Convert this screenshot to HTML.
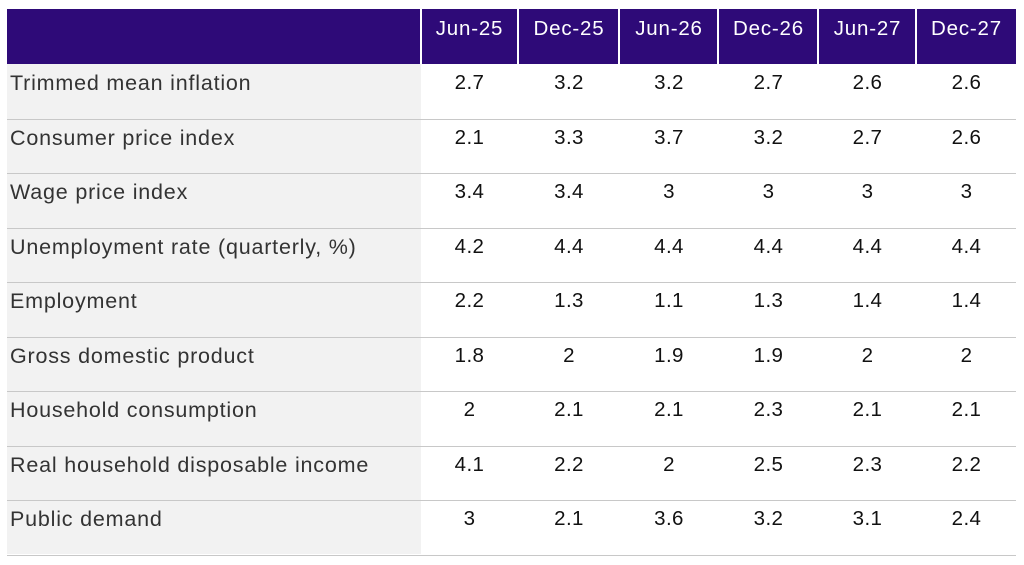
<!DOCTYPE html>
<html><head><style>
body{margin:0;width:1024px;height:565px;background:#fff;position:relative;overflow:hidden;font-family:"Liberation Sans",sans-serif;}
.h{position:absolute;top:9px;height:55px;background:#2e0a78;}
.ht{position:absolute;top:10px;height:37px;line-height:37px;color:#fff;font-size:20.5px;letter-spacing:0.8px;text-align:center;}
.g{position:absolute;left:7px;top:64px;width:414px;height:490px;background:#f2f2f2;}
.line{position:absolute;left:7px;width:1009px;height:1px;background:#c8c8c8;}
.lab{position:absolute;left:10px;font-size:21.5px;letter-spacing:0.8px;color:#333;}
.v{position:absolute;font-size:20.5px;letter-spacing:0.4px;color:#111;text-align:center;}
.sep{position:absolute;top:9px;height:55px;width:2px;background:#fff;}
</style></head><body>
<div class="h" style="left:7px;width:1009px"></div>
<div class="sep" style="left:420px"></div><div class="sep" style="left:517px"></div><div class="sep" style="left:618px"></div><div class="sep" style="left:717px"></div><div class="sep" style="left:817px"></div><div class="sep" style="left:915px"></div>
<div class="ht" style="left:421px;width:97px">Jun-25</div>
<div class="ht" style="left:519px;width:100px">Dec-25</div>
<div class="ht" style="left:620px;width:98px">Jun-26</div>
<div class="ht" style="left:719px;width:99px">Dec-26</div>
<div class="ht" style="left:819px;width:97px">Jun-27</div>
<div class="ht" style="left:917px;width:99px">Dec-27</div>
<div class="g"></div>
<div id="rows"></div>
<script>
var data=[["Trimmed mean inflation","2.7","3.2","3.2","2.7","2.6","2.6"],
["Consumer price index","2.1","3.3","3.7","3.2","2.7","2.6"],
["Wage price index","3.4","3.4","3","3","3","3"],
["Unemployment rate (quarterly, %)","4.2","4.4","4.4","4.4","4.4","4.4"],
["Employment","2.2","1.3","1.1","1.3","1.4","1.4"],
["Gross domestic product","1.8","2","1.9","1.9","2","2"],
["Household consumption","2","2.1","2.1","2.3","2.1","2.1"],
["Real household disposable income","4.1","2.2","2","2.5","2.3","2.2"],
["Public demand","3","2.1","3.6","3.2","3.1","2.4"]];
var cols=[[421,97],[519,100],[620,98],[719,99],[819,97],[917,99]];
var h="";
for(var i=0;i<9;i++){var y=64+i*54.5;
h+='<div class="lab" style="top:'+(y+7)+'px">'+data[i][0]+'</div>';
for(var j=0;j<6;j++)h+='<div class="v" style="top:'+(y+7)+'px;left:'+cols[j][0]+'px;width:'+cols[j][1]+'px">'+data[i][j+1]+'</div>';
h+='<div class="line" style="top:'+Math.round(y+54.5)+'px"></div>';}
document.getElementById("rows").innerHTML=h;
</script>
</body></html>
